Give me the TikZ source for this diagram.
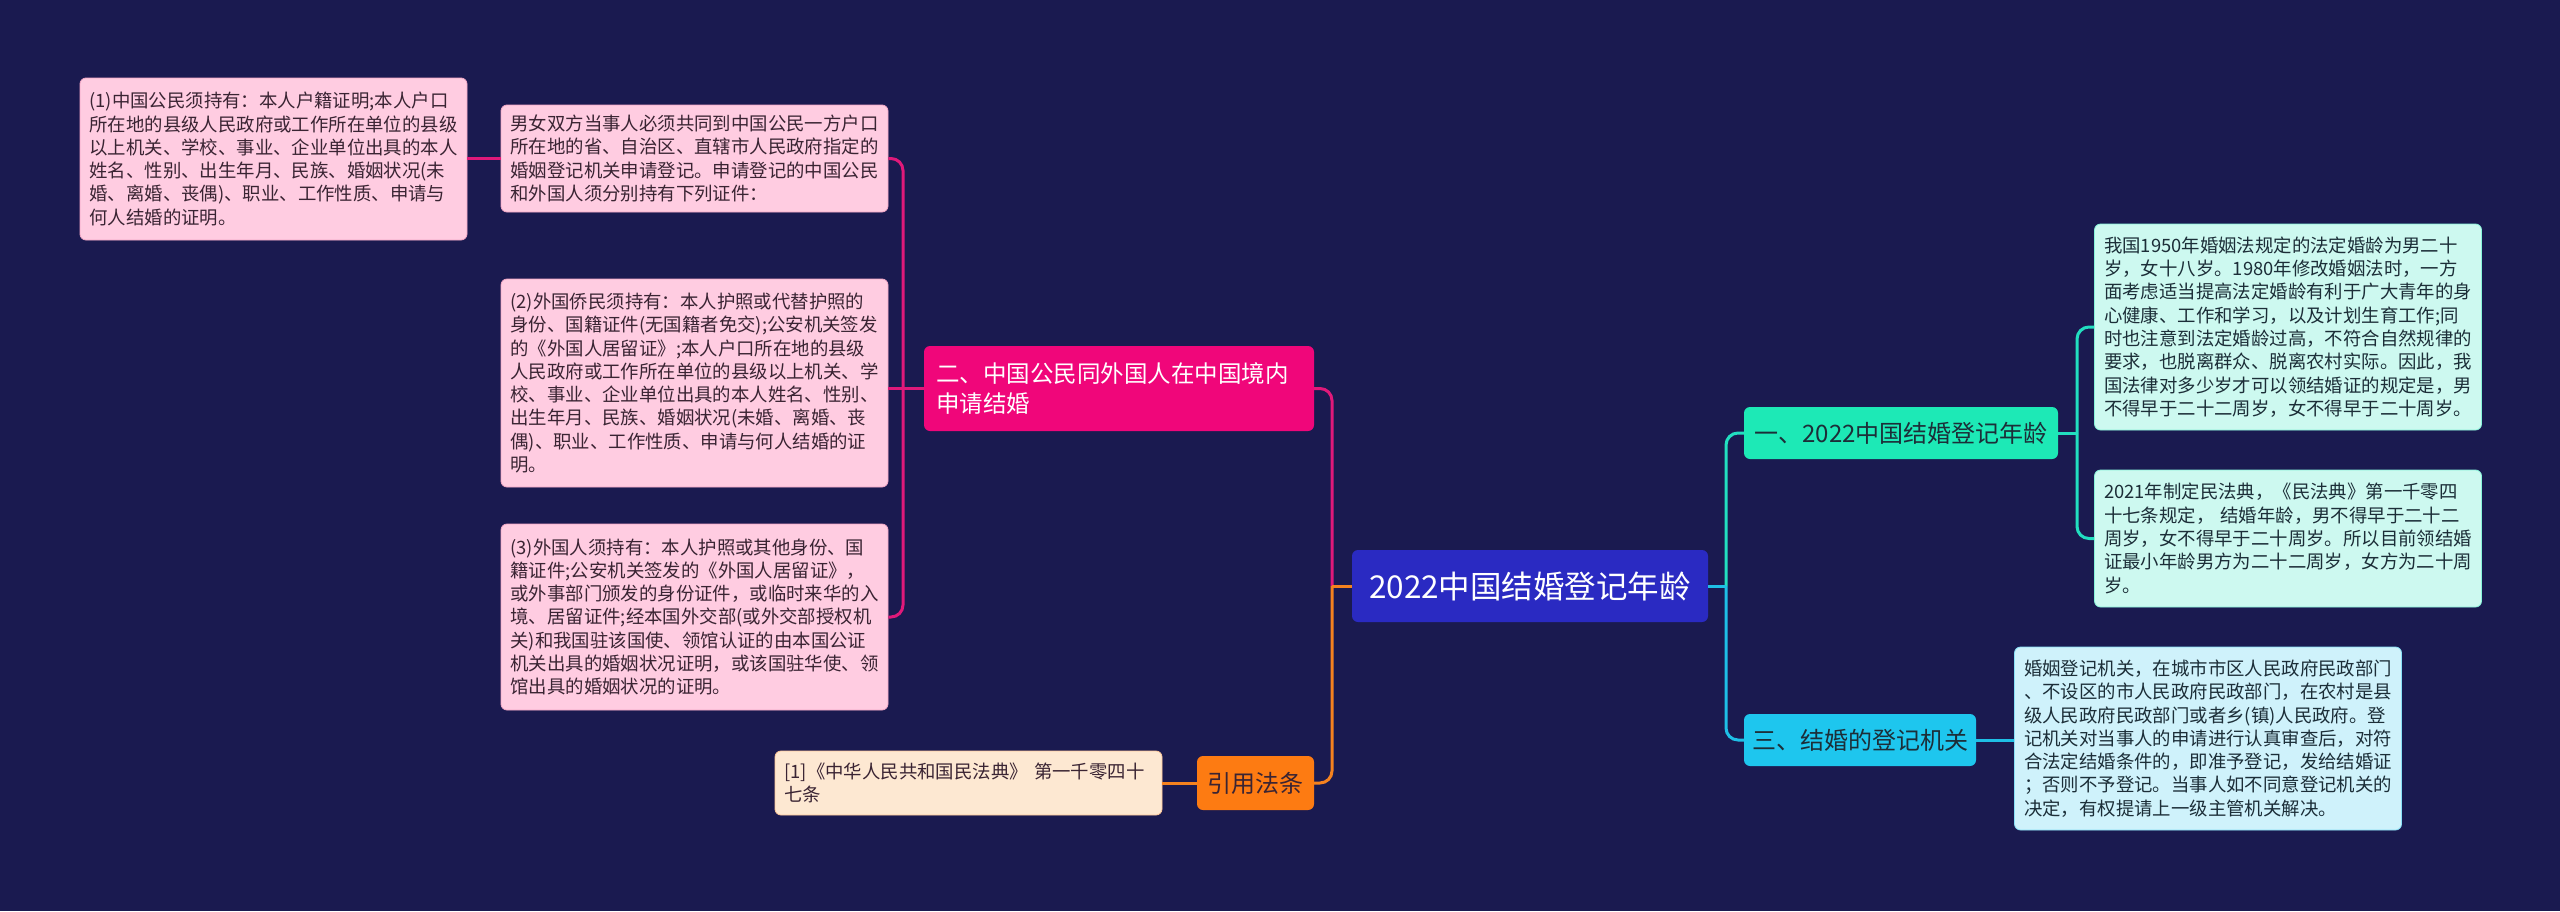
\documentclass[tikz,border=0pt]{standalone}
\usepackage{fontspec}
\setmainfont{Noto Sans CJK SC}
\definecolor{bgc}{HTML}{1A1A50}
\definecolor{pinkbg}{HTML}{FFCCE1}
\definecolor{pinkbd}{HTML}{F2A7C6}
\definecolor{pinktx}{HTML}{3A2433}
\definecolor{pinkln}{HTML}{E0197A}
\definecolor{magbox}{HTML}{F0067A}
\definecolor{orgbox}{HTML}{FD7B12}
\definecolor{orgln}{HTML}{F5821F}
\definecolor{peach}{HTML}{FDE8D2}
\definecolor{rootc}{HTML}{2A2AC2}
\definecolor{tealbox}{HTML}{1DE9B6}
\definecolor{tealln}{HTML}{22DEC0}
\definecolor{mint}{HTML}{CDF9F0}
\definecolor{cyanbox}{HTML}{1EC6EE}
\definecolor{cyanln}{HTML}{1EBFE6}
\definecolor{lcyan}{HTML}{CFF2FB}
\definecolor{darktx}{HTML}{1C2E38}
\begin{document}
\begin{tikzpicture}[x=1pt,y=-1pt,
  leaf/.style={rounded corners=6pt, align=left, text width=368pt, inner xsep=9.5pt, inner ysep=0pt,
    font=\fontsize{18.4}{23.3}\selectfont},
  leafP/.style={leaf, draw=pinkbd, line width=0.8pt, fill=pinkbg, text=pinktx},
  leafM/.style={leaf, draw=tealbox!40!mint, line width=0.8pt, fill=mint, text=darktx},
  leafC/.style={leaf, draw=cyanbox!40!lcyan, line width=0.8pt, fill=lcyan, text=darktx},
  leafO/.style={leaf, draw=orgbox!30!peach, line width=0.8pt, fill=peach, text=pinktx},
  branch/.style={rounded corners=6pt, inner sep=0pt, align=center, font=\fontsize{24}{30}\selectfont},
  lnP/.style={draw=pinkln, line width=3pt, rounded corners=12pt},
  lnO/.style={draw=orgln, line width=3pt, rounded corners=12pt},
  lnT/.style={draw=tealln, line width=3pt, rounded corners=12pt},
  lnC/.style={draw=cyanln, line width=3pt, rounded corners=12pt}]
\fill[bgc] (0,0) rectangle (2560,911);
\useasboundingbox (0,0) rectangle (2560,911);

% root
\node[rounded corners=6pt, fill=rootc, text=white, inner sep=0pt, minimum width=356pt, minimum height=72pt,
  font=\fontsize{31.5}{36}\selectfont] (root) at (1530,586) {2022中国结婚登记年龄};

% left branches
\node[branch, fill=magbox, text=white, align=left, text width=366pt, inner xsep=12pt, minimum height=85pt,
  font=\fontsize{23.5}{30}\selectfont] (b2) at (1119,388.5) {二、中国公民同外国人在中国境内\\申请结婚};
\node[branch, fill=orgbox, text=pinktx, minimum width=117pt, minimum height=54pt] (cite) at (1255.5,783) {引用法条};

% right branches
\node[branch, fill=tealbox, text=darktx, minimum width=314pt, minimum height=52pt] (b1) at (1901,433) {一、2022中国结婚登记年龄};
\node[branch, fill=cyanbox, text=darktx, minimum width=232pt, minimum height=52pt] (b3) at (1860,740) {三、结婚的登记机关};

% pink leaves
\node[leafP, minimum height=162pt] (n1) at (273.5,159) {(1)中国公民须持有：本人户籍证明;本人户口\\所在地的县级人民政府或工作所在单位的县级\\以上机关、学校、事业、企业单位出具的本人\\姓名、性别、出生年月、民族、婚姻状况(未\\婚、离婚、丧偶)、职业、工作性质、申请与\\何人结婚的证明。};
\node[leafP, minimum height=107pt] (intro) at (694.5,158.5) {男女双方当事人必须共同到中国公民一方户口\\所在地的省、自治区、直辖市人民政府指定的\\婚姻登记机关申请登记。申请登记的中国公民\\和外国人须分别持有下列证件：};
\node[leafP, minimum height=208pt] (n2) at (694.5,383) {(2)外国侨民须持有：本人护照或代替护照的\\身份、国籍证件(无国籍者免交);公安机关签发\\的《外国人居留证》;本人户口所在地的县级\\人民政府或工作所在单位的县级以上机关、学\\校、事业、企业单位出具的本人姓名、性别、\\出生年月、民族、婚姻状况(未婚、离婚、丧\\偶)、职业、工作性质、申请与何人结婚的证\\明。};
\node[leafP, minimum height=186pt] (n3) at (694.5,617) {(3)外国人须持有：本人护照或其他身份、国\\籍证件;公安机关签发的《外国人居留证》，\\或外事部门颁发的身份证件，或临时来华的入\\境、居留证件;经本国外交部(或外交部授权机\\关)和我国驻该国使、领馆认证的由本国公证\\机关出具的婚姻状况证明，或该国驻华使、领\\馆出具的婚姻状况的证明。};
\node[leafO, minimum height=64pt] (law) at (968.5,783) {[1]《中华人民共和国民法典》~第一千零四十\\七条};

% right leaves
\node[leafM, minimum height=206pt] (t1) at (2288,327) {我国1950年婚姻法规定的法定婚龄为男二十\\岁，女十八岁。1980年修改婚姻法时，一方\\面考虑适当提高法定婚龄有利于广大青年的身\\心健康、工作和学习，以及计划生育工作;同\\时也注意到法定婚龄过高，不符合自然规律的\\要求，也脱离群众、脱离农村实际。因此，我\\国法律对多少岁才可以领结婚证的规定是，男\\不得早于二十二周岁，女不得早于二十周岁。};
\node[leafM, minimum height=137pt] (t2) at (2288,538.5) {2021年制定民法典，《民法典》第一千零四\\十七条规定，~结婚年龄，男不得早于二十二\\周岁，女不得早于二十周岁。所以目前领结婚\\证最小年龄男方为二十二周岁，女方为二十周\\岁。};
\node[leafC, minimum height=183pt] (t3) at (2208,738.5) {婚姻登记机关，在城市市区人民政府民政部门\\、不设区的市人民政府民政部门，在农村是县\\级人民政府民政部门或者乡(镇)人民政府。登\\记机关对当事人的申请进行认真审查后，对符\\合法定结婚条件的，即准予登记，发给结婚证\\；否则不予登记。当事人如不同意登记机关的\\决定，有权提请上一级主管机关解决。};

% junction coordinates
\coordinate (jL) at (1332,586);
\coordinate (jB) at (903,388.5);
\coordinate (jR) at (1726,586);
\coordinate (jT) at (2077,433);

% connectors (left)
\draw[lnP] (jL) |- (b2.east);
\draw[lnO] (jL) |- (cite.east);
\draw[orgln, line width=3pt] (root.west) -- (jL);
\draw[lnP] (b2.west) -- (n2.east |- b2.west);
\draw[lnP] (jB) |- (intro.east);
\draw[lnP] (jB) |- (n3.east);
\draw[lnP] (intro.west) -- (n1.east |- intro.west);
\draw[lnO] (cite.west) -- (law.east);

% connectors (right)
\draw[lnT] (jR) |- (b1.west);
\draw[lnC] (jR) |- (b3.west);
\draw[cyanln, line width=3pt] (root.east) -- (jR);
\draw[lnT] (jT) |- (t1.west);
\draw[lnT] (jT) |- (t2.west);
\draw[tealln, line width=3pt] (b1.east) -- (jT);
\draw[lnC] (b3.east) -- (t3.west |- b3.east);
\end{tikzpicture}
\end{document}
